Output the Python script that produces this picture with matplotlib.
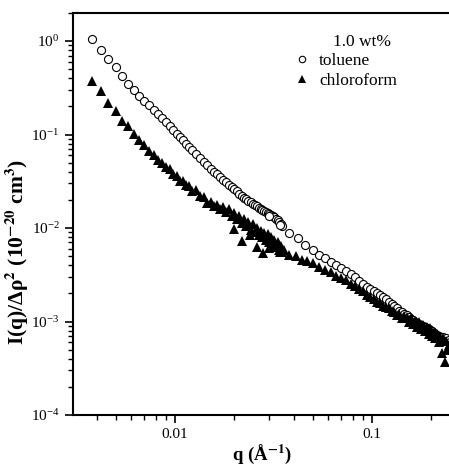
import matplotlib.pyplot as plt
from matplotlib.ticker import LogLocator, NullFormatter, FuncFormatter

plt.rcParams['font.family'] = ['Liberation Serif', 'DejaVu Serif']
plt.rcParams['mathtext.fontset'] = 'stix'

# low-q set (same q grid for both solvents)
q_low = [0.0038, 0.0042, 0.0046, 0.0050, 0.0054, 0.0058, 0.0062, 0.0066, 0.0070, 0.0074,
         0.0078, 0.0082, 0.0086, 0.0090, 0.0094, 0.0098, 0.0102, 0.0106, 0.0110, 0.0114,
         0.0118, 0.0122, 0.0128, 0.0134, 0.0140, 0.0146, 0.0152, 0.0158, 0.0164, 0.0170,
         0.0176, 0.0182, 0.0188, 0.0194, 0.0200, 0.0206, 0.0212, 0.0218, 0.0224, 0.0230,
         0.0236, 0.0242, 0.0248, 0.0254, 0.0260, 0.0266, 0.0272, 0.0278, 0.0284, 0.0290,
         0.0296, 0.0302, 0.0308, 0.0314, 0.0320, 0.0326, 0.0332, 0.0338, 0.0344, 0.0350]
tol_low = [1.05, 0.81, 0.65, 0.525, 0.423, 0.349, 0.299, 0.260, 0.231, 0.206,
           0.184, 0.164, 0.150, 0.136, 0.124, 0.112, 0.1025, 0.0944, 0.0867, 0.0794,
           0.0733, 0.0679, 0.0615, 0.0562, 0.0512, 0.0468, 0.0433, 0.0402, 0.0375, 0.0352,
           0.0329, 0.0310, 0.0292, 0.0276, 0.0261, 0.0246, 0.0233, 0.0222, 0.0212, 0.0202,
           0.0195, 0.0188, 0.0182, 0.0176, 0.0171, 0.0165, 0.0160, 0.0157, 0.0153, 0.0149,
           0.0146, 0.0142, 0.0138, 0.0134, 0.0132, 0.0125, 0.0122, 0.0116, 0.0110, 0.0106]
chl_low = [0.370, 0.295, 0.219, 0.177, 0.140, 0.124, 0.102, 0.088, 0.077, 0.066,
           0.060, 0.053, 0.050, 0.045, 0.043, 0.038, 0.036, 0.032, 0.032, 0.029,
           0.028, 0.025, 0.0255, 0.0218, 0.0214, 0.0186, 0.0190, 0.0170, 0.0178, 0.0158,
           0.0168, 0.0148, 0.0158, 0.0136, 0.0144, 0.0124, 0.0133, 0.0112, 0.0125, 0.0104,
           0.0117, 0.0096, 0.0110, 0.0090, 0.0101, 0.0084, 0.0094, 0.0080, 0.0089, 0.0074,
           0.0086, 0.0070, 0.0081, 0.0066, 0.0075, 0.0062, 0.0070, 0.0058, 0.0064, 0.0056]

# high-q set, toluene
q_tol_high = [0.030, 0.034, 0.038, 0.042, 0.046, 0.050, 0.054, 0.058, 0.062, 0.066,
              0.070, 0.074, 0.078, 0.082, 0.086, 0.090, 0.094, 0.098, 0.102, 0.106,
              0.110, 0.114, 0.118, 0.122, 0.126, 0.130, 0.134, 0.138, 0.142, 0.146,
              0.150, 0.154, 0.158, 0.162, 0.166, 0.170, 0.174, 0.178, 0.182, 0.186,
              0.190, 0.194, 0.198, 0.202, 0.206, 0.210, 0.214, 0.218, 0.222, 0.226,
              0.230, 0.234, 0.238, 0.242, 0.246, 0.250]
tol_high = [0.0133, 0.0108, 0.00881, 0.00774, 0.00658, 0.00577, 0.00519, 0.00474, 0.00438, 0.00404,
            0.00373, 0.00348, 0.00325, 0.00297, 0.00274, 0.00254, 0.00236, 0.00223, 0.00211, 0.00202,
            0.00191, 0.00181, 0.00172, 0.00163, 0.00153, 0.00145, 0.00138, 0.00131, 0.00126, 0.00120,
            0.00116, 0.00111, 0.00107, 0.00103, 0.00100, 0.000975, 0.000944, 0.000921, 0.000894, 0.000869,
            0.000847, 0.000824, 0.000803, 0.000782, 0.000758, 0.000738, 0.000718, 0.000698, 0.000681, 0.000673,
            0.000690, 0.000640, 0.000660, 0.000615, 0.000640, 0.000600]

# high-q set, chloroform
q_chl_high = [0.020, 0.022, 0.024, 0.026, 0.028, 0.030, 0.032, 0.034, 0.036, 0.038,
              0.041, 0.044, 0.047, 0.050, 0.054, 0.058,
              0.062, 0.066, 0.070, 0.074, 0.078, 0.082, 0.086, 0.090, 0.094, 0.098,
              0.102, 0.106, 0.110, 0.114, 0.118, 0.122, 0.126, 0.130, 0.134, 0.138,
              0.142, 0.146, 0.150, 0.154, 0.158, 0.162, 0.166, 0.170, 0.174, 0.178,
              0.182, 0.186, 0.190, 0.194, 0.198, 0.202, 0.206, 0.210, 0.214, 0.218,
              0.222, 0.226, 0.230, 0.234, 0.238, 0.242, 0.246, 0.250]
chl_high = [0.0098, 0.0072, 0.0085, 0.0063, 0.0054, 0.0061, 0.0066, 0.0055, 0.0058, 0.0052,
            0.0050, 0.0046, 0.0044, 0.0042, 0.0038, 0.0036,
            0.0034, 0.0031, 0.0029, 0.0028, 0.0025, 0.0024, 0.0022, 0.0021, 0.0019, 0.00185,
            0.00175, 0.00160, 0.00158, 0.00148, 0.00142, 0.00138, 0.00128, 0.00126, 0.00118, 0.00120,
            0.00110, 0.00114, 0.00112, 0.00100, 0.00108, 0.00093, 0.00102, 0.00088, 0.00098, 0.00084,
            0.00092, 0.00079, 0.00088, 0.00074, 0.00085, 0.00070, 0.00078, 0.00066, 0.00074, 0.00060,
            0.00068, 0.00046, 0.00066, 0.00037, 0.00062, 0.00050, 0.00056, 0.00058]

fig = plt.figure(figsize=(4.49, 4.70), dpi=100)
ax = fig.add_axes([0.1621, 0.117, 0.8445, 0.8556])

circ = dict(marker='o', linestyle='none', markersize=5.8, markerfacecolor='white',
            markeredgecolor='black', markeredgewidth=0.8)
tri = dict(marker='^', linestyle='none', markersize=7.0, color='black', markeredgewidth=0)

ax.plot(q_low, tol_low, label='toluene', **circ)
ax.plot(q_tol_high, tol_high, **circ)
ax.plot(q_low, chl_low, label='chloroform', **tri)
ax.plot(q_chl_high, chl_high, **tri)

ax.set_xscale('log')
ax.set_yscale('log')
ax.set_xlim(0.00303, 0.255)
ax.set_ylim(1e-4, 2.0)

ax.xaxis.set_major_formatter(FuncFormatter(lambda v, p: f'{v:g}'))
ax.xaxis.set_minor_locator(LogLocator(base=10, subs=range(2, 10), numticks=20))
ax.xaxis.set_minor_formatter(NullFormatter())
ax.yaxis.set_major_locator(LogLocator(base=10, numticks=10))
ax.yaxis.set_minor_locator(LogLocator(base=10, subs=range(2, 10), numticks=20))
ax.yaxis.set_minor_formatter(NullFormatter())

ax.tick_params(which='major', direction='out', length=6, width=1.2, labelsize=11,
               top=False, right=False)
ax.tick_params(which='minor', direction='out', length=3.5, width=1.0, top=False, right=False)
for s in ['left', 'bottom', 'top']:
    ax.spines[s].set_linewidth(1.5)
ax.spines['right'].set_visible(False)

ax.set_xlabel(r'q (Å$^\mathbf{-1}$)', fontsize=13.5, fontweight='bold', labelpad=1)
ax.set_ylabel(r'I(q)/Δρ$^\mathbf{2}$ (10$^\mathbf{-20}$ cm$^\mathbf{3}$)', fontsize=15.5,
              fontweight='bold')
ax.yaxis.set_label_coords(-0.11, 0.405)

ax.legend(loc='upper left', bbox_to_anchor=(293 / 449, 1 - 53 / 470),
          bbox_transform=fig.transFigure, frameon=False, fontsize=12.5,
          handletextpad=0.5, borderaxespad=0, borderpad=0, handlelength=1.0,
          markerscale=0.8, labelspacing=0.2)
fig.text(333 / 449, 1 - 42 / 470, '1.0 wt%', fontsize=12.5, ha='left', va='center')

fig.savefig('out.png', dpi=100)
